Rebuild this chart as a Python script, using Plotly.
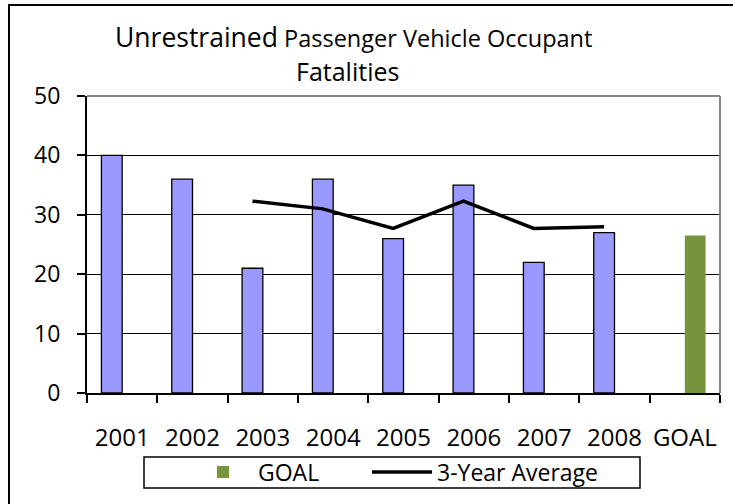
import plotly.graph_objects as go

# ---- data ----
categories = ["2001", "2002", "2003", "2004", "2005", "2006", "2007", "2008", "GOAL"]
fatalities = [40, 36, 21, 36, 26, 35, 22, 27, None]
goal_values = [None, None, None, None, None, None, None, None, 26.5]
avg_years = ["2003", "2004", "2005", "2006", "2007", "2008"]
avg_values = [32.3, 31.0, 27.7, 32.3, 27.7, 28.0]
y_ticks = [0, 10, 20, 30, 40, 50]

FONT = "'Open Sans', Lato, sans-serif"
BAR_W = 0.295

pos = list(range(len(categories)))
cat_index = {c: i for i, c in enumerate(categories)}
avg_x = [cat_index[y] - BAR_W / 2 for y in avg_years]

fig = go.Figure()
fig.add_trace(go.Bar(
    x=pos, y=fatalities, width=BAR_W, offset=-BAR_W,
    marker=dict(color="#9999FF", line=dict(color="black", width=1.3)),
    name="Fatalities", showlegend=False,
))
fig.add_trace(go.Bar(
    x=pos, y=goal_values, width=BAR_W, offset=0,
    marker=dict(color="#77933C", line=dict(width=0)),
    name="GOAL", legendwidth=104,
))
fig.add_trace(go.Scatter(
    x=avg_x, y=avg_values, mode="lines",
    line=dict(color="black", width=3.5),
    name="3-Year Average", legendwidth=180,
))

W, H = 733, 504
L, T, RGT, BOT = 87, 96, 720, 393
pw, ph = RGT - L, BOT - T

def px_x(p):
    return (p - L) / pw

def px_y(p):
    return (BOT - p) / ph

fig.update_layout(
    width=W, height=H,
    margin=dict(l=L, r=W - RGT, t=T, b=H - BOT, pad=0, autoexpand=False),
    paper_bgcolor="white", plot_bgcolor="white",
    barmode="overlay",
    font=dict(family=FONT, size=24, color="black"),
    xaxis=dict(
        range=[-0.5, len(categories) - 0.5],
        tickmode="array", tickvals=pos, ticktext=categories,
        ticks="", showgrid=False, zeroline=False,
        showline=True, linecolor="black", linewidth=2,
        ticklabelstandoff=22,
        tickfont=dict(family=FONT, size=24, color="black"),
        minor=dict(tick0=-0.5, dtick=1, ticks="outside", ticklen=8,
                   tickcolor="black", tickwidth=1.5, showgrid=False),
    ),
    yaxis=dict(
        range=[0, 50], tickmode="array", tickvals=y_ticks,
        ticks="outside", ticklen=8, tickcolor="black", tickwidth=1.5,
        showgrid=True, gridcolor="black", gridwidth=1,
        zeroline=False, showline=True, linecolor="black", linewidth=2,
        ticklabelstandoff=12,
        tickfont=dict(family=FONT, size=23, color="black"),
    ),
    legend=dict(
        orientation="h", x=px_x(188), y=px_y(472),
        xanchor="left", yanchor="middle",
        borderwidth=0, bgcolor="rgba(0,0,0,0)",
        font=dict(family=FONT, size=23, color="black"),
        itemwidth=60,
    ),
    shapes=[
        dict(type="line", xref="paper", yref="paper", x0=0, x1=1, y0=1, y1=1,
             line=dict(color="#868686", width=2), layer="above"),
        dict(type="line", xref="paper", yref="paper", x0=1, x1=1, y0=0, y1=1,
             line=dict(color="#868686", width=2), layer="above"),
        # outer chart border
        dict(type="rect", xref="paper", yref="paper",
             x0=px_x(9), x1=px_x(745), y0=px_y(515), y1=px_y(5),
             line=dict(color="black", width=2), fillcolor="rgba(0,0,0,0)",
             layer="above"),
        # legend frame
        dict(type="rect", xref="paper", yref="paper",
             x0=px_x(144), x1=px_x(640), y0=px_y(488), y1=px_y(457),
             line=dict(color="black", width=1.5), fillcolor="rgba(0,0,0,0)",
             layer="below"),
    ],
    annotations=[
        dict(xref="paper", yref="paper", x=px_x(353), y=px_y(37),
             xanchor="center", yanchor="middle", showarrow=False,
             text="<span style='font-size:26.5px'>Unrestrained</span> "
                  "<span style='font-size:23.5px'>Passenger Vehicle Occupant</span>",
             font=dict(family=FONT, size=23.5, color="black")),
        dict(xref="paper", yref="paper", x=px_x(347), y=px_y(71),
             xanchor="center", yanchor="middle", showarrow=False,
             text="Fatalities",
             font=dict(family=FONT, size=25, color="black")),
    ],
)

fig.write_html("out.html", config={"displayModeBar": False},
               post_script="document.body.style.margin='0px';")
